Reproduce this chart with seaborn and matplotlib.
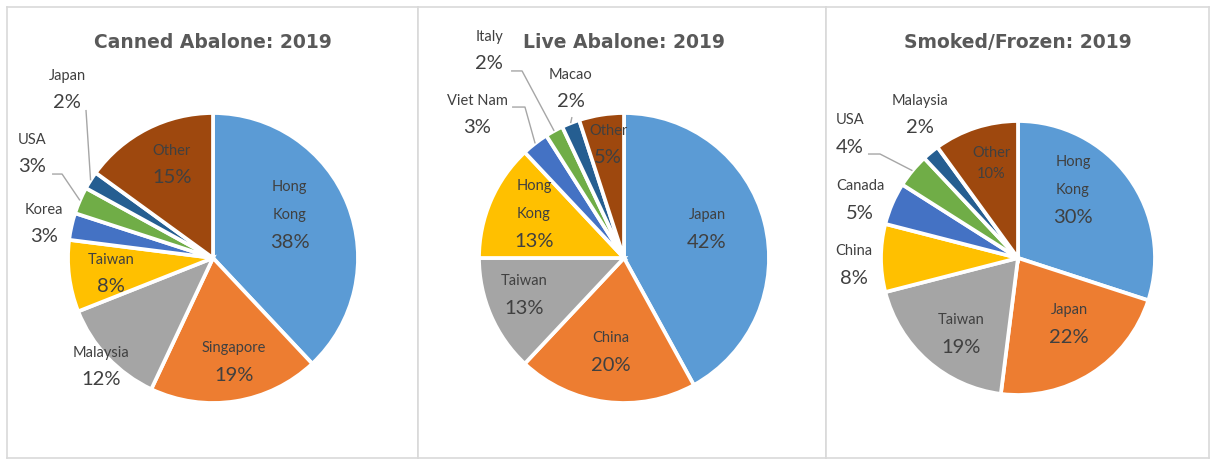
import matplotlib
matplotlib.use("Agg")
import matplotlib.pyplot as plt
import seaborn as sns
import numpy as np

# ---------------- data ----------------
canned_labels = ["Hong Kong", "Singapore", "Malaysia", "Taiwan", "Korea", "USA", "Japan", "Other"]
canned_values = [38, 19, 12, 8, 3, 3, 2, 15]

live_labels = ["Japan", "China", "Taiwan", "Hong Kong", "Viet Nam", "Italy", "Macao", "Other"]
live_values = [42, 20, 13, 13, 3, 2, 2, 5]

smoked_labels = ["Hong Kong", "Japan", "Taiwan", "China", "Canada", "USA", "Malaysia", "Other"]
smoked_values = [30, 22, 19, 8, 5, 4, 2, 10]

titles = ["Canned Abalone: 2019", "Live Abalone: 2019", "Smoked/Frozen: 2019"]

# ---------------- style ----------------
sns.set_theme(style="white")
plt.rcParams["font.family"] = ["Lato", "DejaVu Sans"]

palette = sns.color_palette(["#5B9BD5", "#ED7D31", "#A5A5A5", "#FFC000",
                             "#4472C4", "#70AD47", "#255E91", "#9E480E"])
TEXT = "#404040"
W, H = 1210, 459

# panel boxes (px: x0, x1, y0, y1 from top), pie centre (px) and radius (px)
panels = [
    dict(box=(7, 418, 7, 458), c=(213, 258), r=145),
    dict(box=(418, 826, 7, 458), c=(624, 258), r=145),
    dict(box=(826, 1209, 7, 458), c=(1018, 258), r=137),
]

# label placement (percentage text centre, in pie-radius units)
label_pos = [
    [(0.53, 0.11), (0.145, -0.807), (-0.772, -0.841), (-0.703, -0.20),
     (-1.166, 0.145), (-1.248, 0.628), (-1.007, 1.069), (-0.283, 0.552)],
    [(0.572, 0.11), (-0.09, -0.738), (-0.69, -0.345), (-0.621, 0.117),
     (-1.014, 0.897), (-0.931, 1.338), (-0.366, 1.076), (-0.11, 0.69)],
    [(0.401, 0.299), (0.372, -0.577), (-0.416, -0.65), (-1.197, -0.146),
     (-1.153, 0.328), (-1.226, 0.81), (-0.715, 0.949), (-0.197, 0.613)],
]
wrap = [
    [True, False, False, False, False, False, False, False],
    [False, False, False, True, False, False, False, False],
    [True, False, False, False, False, False, False, False],
]
small = [
    [False] * 8,
    [False] * 8,
    [False] * 7 + [True],
]
# leader lines: index -> (start, elbow) in radius units; end point lies on wedge
leaders = [
    {5: ((-1.110, 0.579), (-1.041, 0.579)), 6: ((-0.876, 1.021), (-0.876, 1.021))},
    {4: ((-0.772, 1.041), (-0.683, 1.041)), 5: ((-0.779, 1.290), (-0.703, 1.290)),
     6: ((-0.359, 0.972), (-0.359, 0.972))},
    {5: ((-1.095, 0.759), (-1.007, 0.759))},
]

datasets = [(canned_labels, canned_values), (live_labels, live_values),
            (smoked_labels, smoked_values)]

fig = plt.figure(figsize=(W / 100, H / 100), dpi=100)
fig.patch.set_facecolor("white")

for k, (p, (labels, values)) in enumerate(zip(panels, datasets)):
    x0, x1, y0, y1 = p["box"]
    cx, cy = p["c"]
    r = p["r"]
    ax = fig.add_axes([x0 / W, 1 - y1 / H, (x1 - x0) / W, (y1 - y0) / H])
    wedges, _ = ax.pie(values, colors=palette, startangle=90, counterclock=False,
                       wedgeprops=dict(edgecolor="white", linewidth=2.7))
    ax.set_aspect("auto")
    ax.set_xlim((x0 - cx) / r, (x1 - cx) / r)
    ax.set_ylim((cy - y1) / r, (cy - y0) / r)
    ax.set_frame_on(True)
    for s in ax.spines.values():
        s.set_visible(True)
        s.set_color("#D9D9D9")
        s.set_linewidth(1.2)
    ax.set_xticks([])
    ax.set_yticks([])

    # title
    ax.text(0, (cy - 42) / r, titles[k], ha="center", va="center",
            fontsize=13.5, fontweight="bold", color="#595959",
            family=["DejaVu Sans"])

    for i, (name, v) in enumerate(zip(labels, values)):
        lx, ly = label_pos[k][i]
        pct_fs = 10.5 if small[k][i] else 14.5
        step = 21 if small[k][i] else 27
        ax.annotate(f"{v}%", xy=(lx, ly), ha="center", va="center",
                    fontsize=pct_fs, color=TEXT)
        lines = name.split(" ") if wrap[k][i] else [name]
        for j, line in enumerate(lines):
            off = step + 28 * (len(lines) - 1 - j)
            ax.annotate(line, xy=(lx, ly), xytext=(0, off), textcoords="offset pixels",
                        ha="center", va="center", fontsize=10.5, color=TEXT)
        if i in leaders[k]:
            (sx, sy), (ex, ey) = leaders[k][i]
            w = wedges[i]
            mid = np.deg2rad((w.theta1 + w.theta2) / 2)
            tx, ty = np.cos(mid) * 1.0, np.sin(mid) * 1.0
            ax.plot([sx, ex, tx], [sy, ey, ty], color="#A6A6A6", lw=1.0,
                    solid_capstyle="butt", zorder=3)

fig.savefig("out.png", dpi=100, facecolor="white")
